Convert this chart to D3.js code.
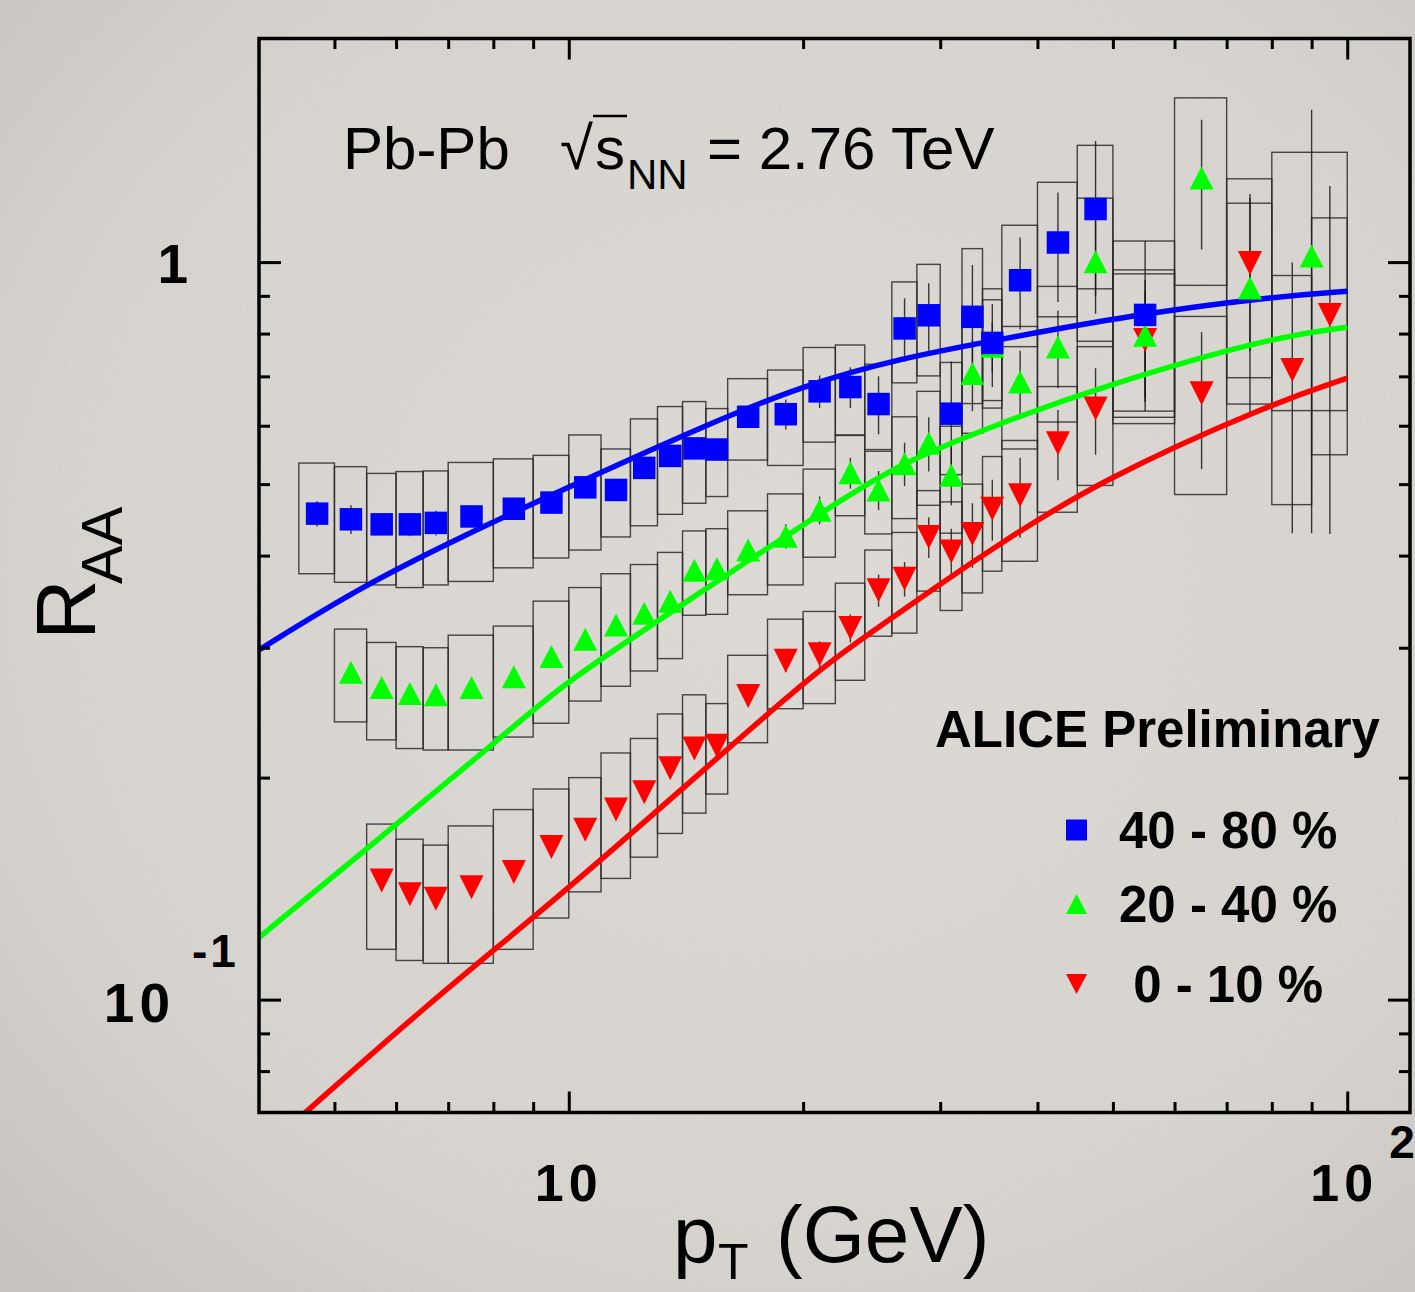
<!DOCTYPE html>
<html>
<head>
<meta charset="utf-8">
<script src="https://cdn.jsdelivr.net/npm/d3@7"></script>
<style>
  html, body { margin: 0; padding: 0; background: #d6d3ce; }
  svg { display: block; }
  text { font-family: "Liberation Sans", Arial, Helvetica, sans-serif; fill: #000; }
</style>
</head>
<body>
<div id="chart"></div>
<script>
const width = 1415;
const height = 1292;

// pT bin edges (GeV) for each centrality class
const edges4080 = [4.5, 5, 5.5, 6, 6.5, 7, 8, 9, 10, 11, 12, 13, 14, 15, 16, 18, 20, 22, 24, 26, 28, 30, 32, 34, 36, 40, 45, 50, 60];
const edges2040 = [5, 5.5, 6, 6.5, 7, 8, 9, 10, 11, 12, 13, 14, 15, 16, 18, 20, 22, 24, 26, 28, 30, 32, 34, 36, 40, 45, 50, 60, 70, 80, 100];
const edges0010 = [5.5, 6, 6.5, 7, 8, 9, 10, 11, 12, 13, 14, 15, 16, 18, 20, 22, 24, 26, 28, 30, 32, 34, 36, 40, 45, 50, 60, 70, 80, 90, 100];

// R_AA values, statistical and systematic uncertainties
const raa4080 = [0.456, 0.448, 0.441, 0.441, 0.443, 0.452, 0.463, 0.472, 0.495, 0.491, 0.526, 0.546, 0.559, 0.557, 0.617, 0.622, 0.668, 0.677, 0.642, 0.813, 0.847, 0.623, 0.843, 0.777, 0.945, 1.063, 1.180, 0.848];
const stat4080 = [0.018, 0.02, 0.012, 0.016, 0.017, 0.012, 0.012, 0.012, 0.013, 0.014, 0.014, 0.015, 0.016, 0.016, 0.02, 0.029, 0.034, 0.043, 0.058, 0.08, 0.089, 0.11, 0.148, 0.1, 0.135, 0.18, 0.28, 0.22];
const sys4080 = [0.078, 0.08, 0.076, 0.079, 0.078, 0.083, 0.078, 0.075, 0.088, 0.067, 0.087, 0.091, 0.088, 0.076, 0.078, 0.092, 0.098, 0.095, 0.085, 0.127, 0.146, 0.108, 0.2, 0.143, 0.177, 0.22, 0.26, 0.22];

const raa2040 = [0.278, 0.265, 0.260, 0.259, 0.265, 0.274, 0.292, 0.308, 0.322, 0.334, 0.347, 0.382, 0.384, 0.407, 0.425, 0.461, 0.518, 0.491, 0.533, 0.568, 0.514, 0.706, 0.769, 0.688, 0.767, 1.001, 0.796, 1.30, 0.922, 1.019];
const stat2040 = [0.006, 0.005, 0.005, 0.005, 0.005, 0.005, 0.006, 0.006, 0.007, 0.008, 0.009, 0.01, 0.011, 0.013, 0.016, 0.02, 0.025, 0.03, 0.036, 0.048, 0.046, 0.078, 0.06, 0.07, 0.092, 0.15, 0.15, 0.26, 0.3, 0.59];
const sys2040 = [0.04, 0.04, 0.041, 0.041, 0.047, 0.047, 0.055, 0.054, 0.056, 0.055, 0.057, 0.05, 0.051, 0.053, 0.06, 0.063, 0.065, 0.063, 0.084, 0.1, 0.085, 0.12, 0.12, 0.13, 0.16, 0.22, 0.18, 0.37, 0.28, 0.39];

const raa0010 = [0.145, 0.139, 0.137, 0.142, 0.149, 0.161, 0.170, 0.181, 0.191, 0.206, 0.219, 0.221, 0.258, 0.288, 0.294, 0.319, 0.359, 0.372, 0.424, 0.405, 0.428, 0.463, 0.483, 0.568, 0.633, 0.784, 0.664, 0.997, 0.714, 0.848];
const stat0010 = [0.003, 0.003, 0.003, 0.003, 0.003, 0.003, 0.004, 0.004, 0.005, 0.005, 0.006, 0.006, 0.008, 0.01, 0.012, 0.014, 0.018, 0.02, 0.027, 0.03, 0.043, 0.044, 0.06, 0.062, 0.085, 0.13, 0.14, 0.24, 0.285, 0.42];
const sys0010 = [0.028, 0.026, 0.025, 0.03, 0.032, 0.032, 0.03, 0.035, 0.035, 0.038, 0.04, 0.031, 0.035, 0.04, 0.042, 0.048, 0.048, 0.058, 0.066, 0.068, 0.072, 0.082, 0.09, 0.11, 0.135, 0.18, 0.18, 0.3, 0.245, 0.3];

const curvePt4080 = [4.0, 5.41, 7.27, 9.77, 14.77, 19.86, 26.69, 35.85, 53.1, 78.96, 100];
const curveRaa4080 = [0.298, 0.363, 0.424, 0.490, 0.597, 0.679, 0.741, 0.786, 0.848, 0.896, 0.913];
const curvePt2040 = [4.0, 6.09, 8.18, 9.77, 11.77, 16.63, 22.35, 26.69, 35.85, 48.18, 78.96, 100];
const curveRaa2040 = [0.1214, 0.175, 0.2267, 0.2659, 0.304, 0.388, 0.4755, 0.5336, 0.605, 0.677, 0.789, 0.816];
const curvePt0010 = [4.568, 6.65, 9.02, 12.12, 15.81, 21.0, 25.0, 29.42, 35.85, 48.18, 78.96, 100];
const curveRaa0010 = [0.070, 0.0994, 0.1292, 0.169, 0.2164, 0.2812, 0.3197, 0.361, 0.4157, 0.506, 0.6397, 0.696];

const centralityLabels = ["40 - 80 %", "20 - 40 %", " 0 - 10 %"];

const xMajorTicks = [10, 100];
const xMinorTicks = [5, 6, 7, 8, 9, 20, 30, 40, 50, 60, 70, 80, 90];
const yMajorTicks = [0.1, 1];
const yMinorTicks = [0.08, 0.09, 0.2, 0.3, 0.4, 0.5, 0.6, 0.7, 0.8, 0.9];

const series = [
  { name: "0010", edges: edges0010, raa: raa0010, stat: stat0010, sys: sys0010,
    curvePt: curvePt0010, curveRaa: curveRaa0010, color: "#ff0000", marker: "down" },
  { name: "2040", edges: edges2040, raa: raa2040, stat: stat2040, sys: sys2040,
    curvePt: curvePt2040, curveRaa: curveRaa2040, color: "#00ff00", marker: "up" },
  { name: "4080", edges: edges4080, raa: raa4080, stat: stat4080, sys: sys4080,
    curvePt: curvePt4080, curveRaa: curveRaa4080, color: "#0000ff", marker: "square" },
];

const plot = { left: 259, right: 1410, top: 38.5, bottom: 1112.5 };

const x = d3.scaleLog().domain([4, 120.4]).range([plot.left, plot.right]);
const y = d3.scaleLog().domain([0.0703, 2.01]).range([plot.bottom, plot.top]);

const svg = d3.select("#chart")
  .append("svg")
  .attr("width", width)
  .attr("height", height)
  .attr("viewBox", `0 0 ${width} ${height}`);

const defs = svg.append("defs");

const grad = defs.append("radialGradient")
  .attr("id", "paper")
  .attr("cx", "55%").attr("cy", "45%").attr("r", "75%");
grad.append("stop").attr("offset", "0%").attr("stop-color", "#dfdcd7");
grad.append("stop").attr("offset", "70%").attr("stop-color", "#d8d5d0");
grad.append("stop").attr("offset", "100%").attr("stop-color", "#c9c6c1");

const noise = defs.append("filter").attr("id", "grain");
noise.append("feTurbulence")
  .attr("type", "fractalNoise")
  .attr("baseFrequency", 0.55)
  .attr("numOctaves", 2)
  .attr("seed", 3);
noise.append("feColorMatrix")
  .attr("type", "matrix")
  .attr("values", "0 0 0 0 0.45  0 0 0 0 0.44  0 0 0 0 0.42  0 0 0 0.18 0");

defs.append("clipPath")
  .attr("id", "plotClip")
  .append("rect")
  .attr("x", plot.left)
  .attr("y", plot.top)
  .attr("width", plot.right - plot.left)
  .attr("height", plot.bottom - plot.top);

svg.append("rect").attr("width", width).attr("height", height).attr("fill", "url(#paper)");
svg.append("rect").attr("width", width).attr("height", height).attr("filter", "url(#grain)").attr("opacity", 0.5);

function pointsOf(s) {
  return s.raa.map((v, i) => ({
    lo: s.edges[i],
    hi: s.edges[i + 1],
    pt: (s.edges[i] + s.edges[i + 1]) / 2,
    v,
    stat: s.stat[i],
    sys: s.sys[i],
  }));
}

const content = svg.append("g").attr("clip-path", "url(#plotClip)");

// systematic boxes
series.forEach(s => {
  content.append("g")
    .selectAll("rect")
    .data(pointsOf(s))
    .join("rect")
    .attr("x", d => x(d.lo))
    .attr("width", d => x(d.hi) - x(d.lo))
    .attr("y", d => y(d.v + d.sys))
    .attr("height", d => y(d.v - d.sys) - y(d.v + d.sys))
    .attr("fill", "none")
    .attr("stroke", "#2a2a2a")
    .attr("stroke-opacity", 0.85)
    .attr("stroke-width", 1.4);
});

// statistical error bars
series.forEach(s => {
  content.append("g")
    .selectAll("line")
    .data(pointsOf(s))
    .join("line")
    .attr("x1", d => x(d.pt))
    .attr("x2", d => x(d.pt))
    .attr("y1", d => y(d.v + d.stat))
    .attr("y2", d => y(Math.max(d.v - d.stat, 0.01)))
    .attr("stroke", "#1a1a1a")
    .attr("stroke-opacity", 0.85)
    .attr("stroke-width", 1.4);
});

// model curves
const line = d3.line()
  .x(d => x(d[0]))
  .y(d => y(d[1]))
  .curve(d3.curveBasis);

series.forEach(s => {
  content.append("path")
    .datum(s.curvePt.map((p, i) => [p, s.curveRaa[i]]))
    .attr("d", line)
    .attr("fill", "none")
    .attr("stroke", s.color)
    .attr("stroke-width", 5.5);
});

function markerPath(type, w, h) {
  if (type === "square") {
    return `M${-w / 2},${-h / 2}H${w / 2}V${h / 2}H${-w / 2}Z`;
  }
  if (type === "up") {
    return `M0,${-h / 2}L${w / 2},${h / 2}H${-w / 2}Z`;
  }
  return `M${-w / 2},${-h / 2}H${w / 2}L0,${h / 2}Z`;
}

const markerSize = { square: [22.5, 22.5], up: [24, 23], down: [24, 24] };

series.forEach(s => {
  const [w, h] = markerSize[s.marker];
  content.append("g")
    .selectAll("path")
    .data(pointsOf(s))
    .join("path")
    .attr("transform", d => `translate(${x(d.pt)},${y(d.v)})`)
    .attr("d", markerPath(s.marker, w, h))
    .attr("fill", s.color);
});

// axes: ticks on all four sides pointing inward
function tickAxis(axisFn, scale, values, size, transform) {
  const g = svg.append("g")
    .attr("transform", transform)
    .call(axisFn(scale).tickValues(values).tickSize(size).tickFormat(""));
  g.select(".domain").remove();
  g.selectAll(".tick line").attr("stroke", "#000").attr("stroke-width", 3);
  return g;
}

tickAxis(d3.axisBottom, x, xMajorTicks, -21, `translate(0,${plot.bottom})`);
tickAxis(d3.axisBottom, x, xMinorTicks, -10.5, `translate(0,${plot.bottom})`);
tickAxis(d3.axisTop, x, xMajorTicks, -21, `translate(0,${plot.top})`);
tickAxis(d3.axisTop, x, xMinorTicks, -10.5, `translate(0,${plot.top})`);
tickAxis(d3.axisLeft, y, yMajorTicks, -22, `translate(${plot.left},0)`);
tickAxis(d3.axisLeft, y, yMinorTicks, -11, `translate(${plot.left},0)`);
tickAxis(d3.axisRight, y, yMajorTicks, -22, `translate(${plot.right},0)`);
tickAxis(d3.axisRight, y, yMinorTicks, -11, `translate(${plot.right},0)`);

svg.append("rect")
  .attr("x", plot.left)
  .attr("y", plot.top)
  .attr("width", plot.right - plot.left)
  .attr("height", plot.bottom - plot.top)
  .attr("fill", "none")
  .attr("stroke", "#000")
  .attr("stroke-width", 3.5);

// tick labels
const labelFont = 52;
svg.append("text")
  .attr("x", x(10)).attr("y", 1201)
  .attr("text-anchor", "middle")
  .attr("font-size", labelFont).attr("font-weight", "bold")
  .attr("letter-spacing", 5)
  .text("10");
svg.append("text")
  .attr("x", x(100) - 3).attr("y", 1201)
  .attr("text-anchor", "middle")
  .attr("font-size", labelFont).attr("font-weight", "bold")
  .attr("letter-spacing", 5)
  .text("10");
svg.append("text")
  .attr("x", x(100) + 42).attr("y", 1158)
  .attr("font-size", 46).attr("font-weight", "bold")
  .text("2");

svg.append("text")
  .attr("x", 188).attr("y", y(1) + 21)
  .attr("text-anchor", "end")
  .attr("font-size", 55).attr("font-weight", "bold")
  .text("1");
svg.append("text")
  .attr("x", 175).attr("y", y(0.1) + 22)
  .attr("text-anchor", "end")
  .attr("font-size", 55).attr("font-weight", "bold")
  .attr("letter-spacing", 5)
  .text("10");
svg.append("text")
  .attr("x", 192).attr("y", y(0.1) - 33)
  .attr("font-size", 46).attr("font-weight", "bold")
  .attr("letter-spacing", 3)
  .text("-1");

// axis titles
const xTitle = svg.append("text").attr("y", 1262).attr("font-size", 80);
xTitle.append("tspan").attr("x", 673).text("p");
xTitle.append("tspan").attr("x", 718).attr("y", 1279).attr("font-size", 50).text("T");
xTitle.append("tspan").attr("x", 776).attr("y", 1262).text("(GeV)");

const yTitle = svg.append("text")
  .attr("transform", "translate(95,640) rotate(-90)")
  .attr("font-size", 84);
yTitle.append("tspan").attr("x", 0).attr("y", 0).text("R");
yTitle.append("tspan").attr("x", 56).attr("y", 27).attr("font-size", 58).text("AA");

// collision system label
const sys = svg.append("text").attr("x", 343).attr("y", 169).attr("font-size", 60);
sys.append("tspan").text("Pb-Pb");
sys.append("tspan").attr("x", 560).text("√");
sys.append("tspan").attr("x", 595).text("s");
sys.append("tspan").attr("x", 627).attr("y", 189).attr("font-size", 42).text("NN");
sys.append("tspan").attr("x", 707).attr("y", 169).text("= 2.76 TeV");
svg.append("line")
  .attr("x1", 593).attr("x2", 627)
  .attr("y1", 116).attr("y2", 116)
  .attr("stroke", "#000").attr("stroke-width", 2.5);

// legend
svg.append("text")
  .attr("x", 935).attr("y", 747)
  .attr("font-size", 51).attr("font-weight", "bold")
  .text("ALICE Preliminary");

const legendRows = [
  { marker: "square", color: "#0000ff", label: centralityLabels[0], my: 830, ty: 848, tx: 1119 },
  { marker: "up", color: "#00ff00", label: centralityLabels[1], my: 904, ty: 922, tx: 1119 },
  { marker: "down", color: "#ff0000", label: centralityLabels[2], my: 984, ty: 1002, tx: 1119 },
];

const legend = svg.append("g");
legend.selectAll("path")
  .data(legendRows)
  .join("path")
  .attr("transform", d => `translate(1076.5,${d.my})`)
  .attr("d", d => markerPath(d.marker, 21, d.marker === "square" ? 21 : 20))
  .attr("fill", d => d.color);

legend.selectAll("text")
  .data(legendRows)
  .join("text")
  .attr("x", d => d.tx)
  .attr("y", d => d.ty)
  .attr("font-size", 51)
  .attr("font-weight", "bold")
  .attr("xml:space", "preserve")
  .style("white-space", "pre")
  .text(d => d.label);
</script>
</body>
</html>
